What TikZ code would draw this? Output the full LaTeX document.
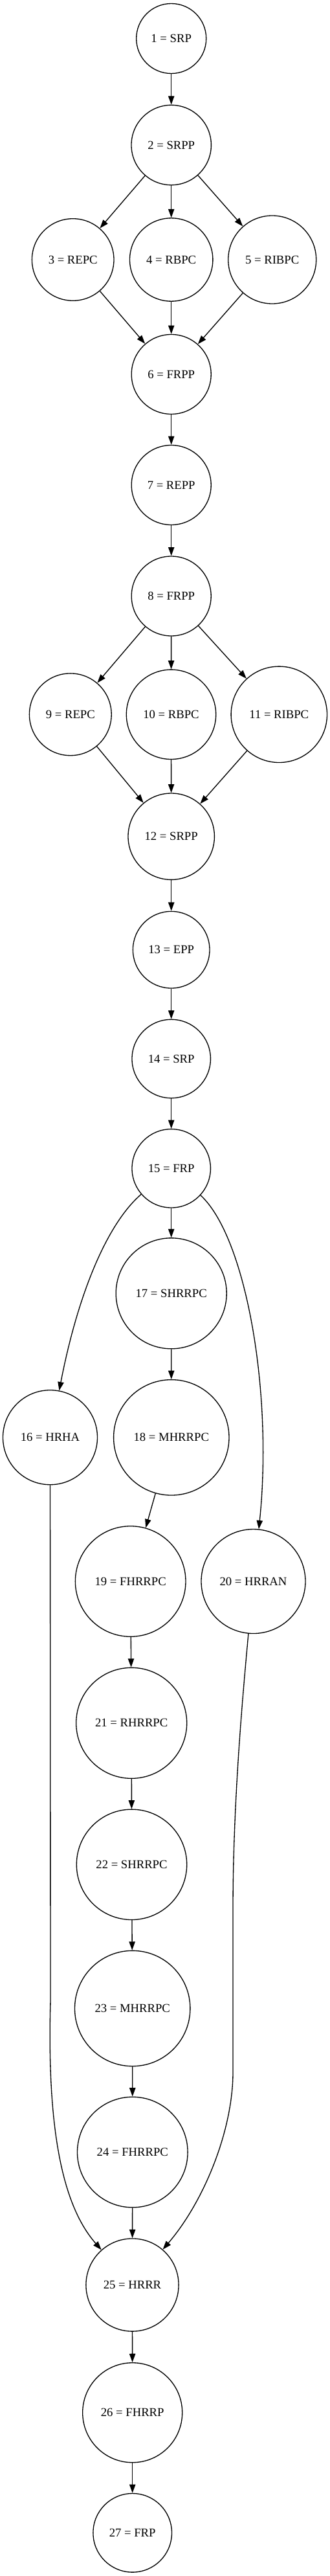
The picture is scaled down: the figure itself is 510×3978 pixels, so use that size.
\documentclass[tikz,border=0pt]{standalone}
\usepackage{fontspec}
\setmainfont{Liberation Serif}
\usetikzlibrary{arrows.meta,shapes}

\begin{document}
\begin{tikzpicture}[x=0.75pt,y=-0.75pt,line width=1pt,>={Triangle[length=10pt,width=7pt]},
  stage/.style={circle,draw,inner sep=0pt,minimum size=#1*1.5pt,font=\fontsize{14pt}{16pt}\selectfont}]
\useasboundingbox (0,0) rectangle (510,3978);
\node[stage=54] (n1) at (264.7,59.5) {1 = SRP};
\node[stage=61.7] (n2) at (264.7,224) {2 = SRPP};
\node[stage=63.3] (n3) at (112.7,401) {3 = REPC};
\node[stage=64.2] (n4) at (264.7,401) {4 = RBPC};
\node[stage=68] (n5) at (420.7,401) {5 = RIBPC};
\node[stage=61.5] (n6) at (264.7,578) {6 = FRPP};
\node[stage=61.5] (n7) at (264.7,749) {7 = REPP};
\node[stage=61.5] (n8) at (264.7,920.5) {8 = FRPP};
\node[stage=63.4] (n9) at (108.8,1103.3) {9 = REPC};
\node[stage=69.2] (n10) at (264.5,1103.3) {10 = RBPC};
\node[stage=74.2] (n11) at (431.3,1103.3) {11 = RIBPC};
\node[stage=66.7] (n12) at (264.7,1291.7) {12 = SRPP};
\node[stage=59.3] (n13) at (264.7,1466.7) {13 = EPP};
\node[stage=60.7] (n14) at (264.7,1635) {14 = SRP};
\node[stage=60.7] (n15) at (264.7,1804.3) {15 = FRP};
\node[stage=73] (n16) at (77.5,2219.7) {16 = HRHA};
\node[stage=85.5] (n17) at (264.7,1997.3) {17 = SHRRPC};
\node[stage=89.2] (n18) at (264.8,2219.8) {18 = MHRRPC};
\node[stage=85.3] (n19) at (201.7,2442) {19 = FHRRPC};
\node[stage=80.5] (n20) at (391.5,2442) {20 = HRRAN};
\node[stage=85.5] (n21) at (203.2,2660.8) {21 = RHRRPC};
\node[stage=85.2] (n22) at (203.5,2879.3) {22 = SHRRPC};
\node[stage=89.2] (n23) at (204.7,3101.5) {23 = MHRRPC};
\node[stage=85.3] (n24) at (204.8,3323.5) {24 = FHRRPC};
\node[stage=71.6] (n25) at (204.5,3528.5) {25 = HRRR};
\node[stage=77] (n26) at (204.7,3725.7) {26 = FHRRP};
\node[stage=60.8] (n27) at (204.7,3911.3) {27 = FRP};
\draw[->] (n1) -- (n2);
\draw[->] (n2) -- (n3);
\draw[->] (n2) -- (n4);
\draw[->] (n2) -- (n5);
\draw[->] (n3) -- (n6);
\draw[->] (n4) -- (n6);
\draw[->] (n5) -- (n6);
\draw[->] (n6) -- (n7);
\draw[->] (n7) -- (n8);
\draw[->] (n8) -- (n9);
\draw[->] (n8) -- (n10);
\draw[->] (n8) -- (n11);
\draw[->] (n9) -- (n12);
\draw[->] (n10) -- (n12);
\draw[->] (n11) -- (n12);
\draw[->] (n12) -- (n13);
\draw[->] (n13) -- (n14);
\draw[->] (n14) -- (n15);
\draw[->] (n15) .. controls (165,1890) and (120,2000) .. (n16);
\draw[->] (n15) -- (n17);
\draw[->] (n15) .. controls (380,1910) and (422,2150) .. (n20);
\draw[->] (n17) -- (n18);
\draw[->] (n18) -- (n19);
\draw[->] (n19) -- (n21);
\draw[->] (n21) -- (n22);
\draw[->] (n22) -- (n23);
\draw[->] (n23) -- (n24);
\draw[->] (n16) -- (78,3090) .. controls (72,3300) and (100,3410) .. (n25);
\draw[->] (n24) -- (n25);
\draw[->] (n20) .. controls (372,2650) and (360,2800) .. (360,2950) -- (360,3200) .. controls (360,3290) and (315,3400) .. (n25);
\draw[->] (n25) -- (n26);
\draw[->] (n26) -- (n27);
\end{tikzpicture}
\end{document}
